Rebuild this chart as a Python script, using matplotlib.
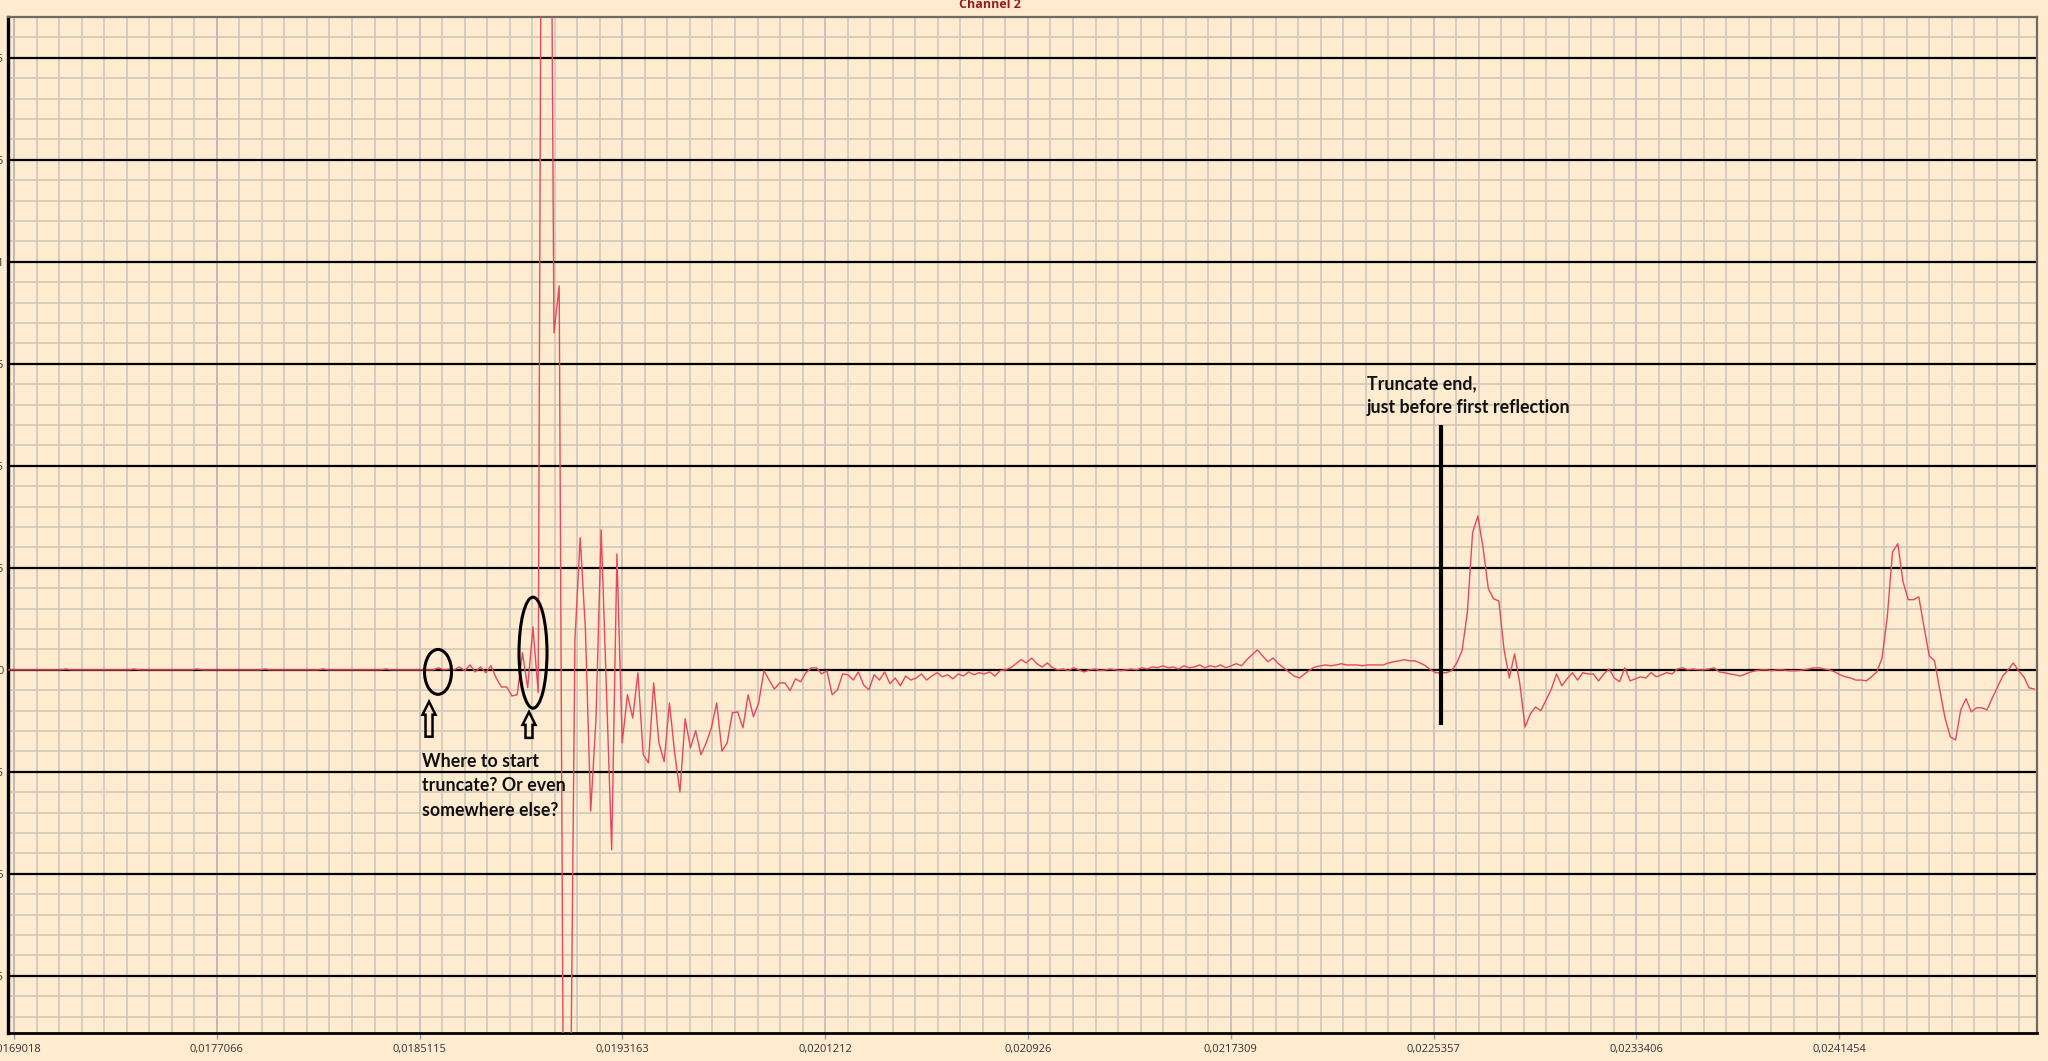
import numpy as np
import matplotlib
matplotlib.use("Agg")
import matplotlib.pyplot as plt
import matplotlib.transforms as mtransforms
from matplotlib.patches import Ellipse, Polygon
from matplotlib.ticker import FixedLocator, MultipleLocator, FuncFormatter

# ---------------- data ----------------
sample_rate = 48000
start_time = 0.016878

pre_onset = [0.0, 0.0, 0.0, 0.0, 0.0, 0.0, 0.0, 0.0, 0.0, 0.0,
             0.0, 0.0002, 0.0, 0.0, 0.0, 0.0, 0.0, 0.0, 0.0, 0.0,
             0.0, 0.0, 0.0, 0.0, 0.0002, 0.0, 0.0, 0.0, 0.0, 0.0,
             0.0, 0.0, 0.0, 0.0, 0.0, 0.0, 0.0002, 0.0, 0.0, 0.0,
             0.0, 0.0, 0.0, 0.0, 0.0, 0.0, 0.0, 0.0, 0.0, 0.0002,
             0.0, 0.0, 0.0, 0.0, 0.0, 0.0, 0.0, 0.0, 0.0, 0.0,
             0.0002, 0.0, 0.0, 0.0, 0.0, 0.0, 0.0, 0.0, 0.0, 0.0,
             0.0, 0.0, 0.0002, 0.0, 0.0, 0.0, 0.0, 0.0, 0.0, 0.0,
             0.0, 0.0]
onset = [0.0005, 0.0, 0.0002, 0.0, 0.0007, -0.0002, 0.0012, -0.0005, 0.0007, -0.0007,
         0.0010, -0.0020, -0.0042, -0.0042, -0.0064, -0.0061, 0.0042, -0.0044, 0.0105, -0.0056]
direct_sound = [0.34, 0.30, 0.0826, 0.0941, -0.16, -0.13, 0.0074, 0.0324, 0.0098, -0.0346,
                -0.0123, 0.0343, -0.0049, -0.0441, 0.0284]
decay = [-0.0179, -0.0061, -0.0118, -0.0007, -0.0208, -0.0228, -0.0032, -0.0179, -0.0225, -0.0081,
         -0.0203, -0.0299, -0.0120, -0.0191, -0.0149, -0.0208, -0.0179, -0.0142, -0.0081, -0.0199,
         -0.0179, -0.0105, -0.0103, -0.0142, -0.0061, -0.0115, -0.0081, -0.0002, -0.0025, -0.0047,
         -0.0032, -0.0032, -0.0051, -0.0022, -0.0029, -0.0007, 0.0005, 0.0005, -0.0010, -0.0002,
         -0.0061, -0.0049, -0.0010, -0.0012]
noise_floor = [-0.0025, -0.0005, -0.0037, -0.0049, -0.0012, -0.0025, -0.0005, -0.0034, -0.0020, -0.0039,
               -0.0015, -0.0025,
               -0.0020, -0.0010, -0.0025, -0.0015, -0.0007, -0.0017, -0.0012, -0.0022, -0.0010, -0.0015,
               -0.0005, -0.0012, -0.0007, -0.0010, -0.0005, -0.0015, -0.0002,
               0.0, 0.0005, 0.0015, 0.0025, 0.0017, 0.0029, 0.0015, 0.0007, 0.0017, 0.0005, 0.0,
               0.0002, -0.0002, 0.0005, 0.0, -0.0005, 0.0, 0.0002, -0.0002, 0.0, 0.0002,
               0.0, -0.0002, 0.0, 0.0002, 0.0,
               0.0005, 0.0002, 0.0007, 0.0005, 0.0010, 0.0005, 0.0007, 0.0002, 0.0010, 0.0005,
               0.0007, 0.0012, 0.0005, 0.0010, 0.0007, 0.0012, 0.0005, 0.0010, 0.0015, 0.0010,
               0.0025, 0.0037, 0.0049, 0.0034, 0.0020, 0.0029,
               0.0015, 0.0005, -0.0005, -0.0015, -0.0020, -0.0010, 0.0, 0.0007, 0.0010,
               0.0012, 0.0010, 0.0012, 0.0015, 0.0012,
               0.0012, 0.0012, 0.0010, 0.0012, 0.0012, 0.0012, 0.0012, 0.0017, 0.0020, 0.0022,
               0.0025, 0.0022, 0.0022, 0.0017, 0.0010, 0.0, -0.0007, -0.0007, -0.0007, -0.0002,
               0.0017]
first_reflection = [0.0047, 0.0140, 0.0336, 0.0377, 0.0299, 0.0199, 0.0174, 0.0169, 0.0049, -0.0020,
                    0.0039, -0.0034, -0.0140, -0.0108, -0.0091, -0.0100, -0.0074, -0.0047]
between_reflections = [-0.0010, -0.0039, -0.0022, -0.0007, -0.0025, -0.0007, -0.0010, -0.0010, -0.0027, -0.0010,
                       0.0002, -0.0020, -0.0029, 0.0005, -0.0027, -0.0022, -0.0017, -0.0020, -0.0007, -0.0017,
                       -0.0012, -0.0007, -0.0010, 0.0002, 0.0005, 0.0, 0.0002, 0.0, 0.0, 0.0002,
                       0.0005, -0.0005, -0.0007, -0.0010, -0.0012, -0.0015, -0.0010, -0.0005, -0.0002, 0.0,
                       0.0, -0.0002, 0.0, 0.0, -0.0002, -0.0002, -0.0002, 0.0, 0.0002, 0.0005,
                       0.0005, 0.0002, 0.0, -0.0005, -0.0012, -0.0017, -0.0020, -0.0025, -0.0025, -0.0027,
                       -0.0017, -0.0005]
second_reflection = [0.0029, 0.0130, 0.0289, 0.0309, 0.0216, 0.0172, 0.0172, 0.0179, 0.0105, 0.0034,
                     0.0022, -0.0049, -0.0118, -0.0164, -0.0172, -0.0098, -0.0071, -0.0103, -0.0093, -0.0093,
                     -0.0098, -0.0069, -0.0042, -0.0015, 0.0, 0.0017, -0.0002, -0.0017, -0.0044, -0.0047]

time_ticks = [0.0169018, 0.0177066, 0.0185115, 0.0193163, 0.0201212,
              0.0209260, 0.0217309, 0.0225357, 0.0233406, 0.0241454]
time_tick_labels = ["0,0169018", "0,0177066", "0,0185115", "0,0193163", "0,0201212",
                    "0,020926", "0,0217309", "0,0225357", "0,0233406", "0,0241454"]

title = "Channel 2"
note_start = "Where to start\ntruncate? Or even\nsomewhere else?"
note_end = "Truncate end,\njust before first reflection"

amplitude = np.array(pre_onset + onset + direct_sound + decay + noise_floor
                     + first_reflection + between_reflections + second_reflection)
time = start_time + np.arange(len(amplitude)) / sample_rate

# ---------------- style ----------------
BG = "#FFEBCF"
TRACE = "#E5485F"
MINOR_GRID = "#CFC7BC"
MAJOR_X_GRID = "#B3B0AB"

W, H = 2048, 1061
fig = plt.figure(figsize=(W / 100, H / 100), dpi=100, facecolor=BG)
ax = fig.add_axes([8 / W, 28 / H, 2029 / W, 1016 / H], facecolor=BG)

x_min, x_max = 0.016878, 0.0249305
y_min, y_max = -0.0890, 0.1600
ax.set_xlim(x_min, x_max)
ax.set_ylim(y_min, y_max)

# grid
major_step = time_ticks[1] - time_ticks[0]
minor_x = np.arange(time_ticks[0], x_max, major_step / 9)
ax.xaxis.set_major_locator(FixedLocator(time_ticks))
ax.xaxis.set_minor_locator(FixedLocator(minor_x))
ax.set_xticklabels(time_tick_labels)
ax.yaxis.set_major_locator(MultipleLocator(0.025))
ax.yaxis.set_minor_locator(MultipleLocator(0.005))
ax.yaxis.set_major_formatter(FuncFormatter(lambda v, p: f"{round(v, 4):g}".replace(".", ",")))

ax.set_axisbelow(True)
ax.grid(which="minor", color=MINOR_GRID, lw=1.2)
ax.grid(which="major", axis="x", color=MAJOR_X_GRID, lw=1.2)
ax.grid(which="major", axis="y", color="black", lw=1.6)

ax.tick_params(axis="x", which="major", length=4, width=1, color="#9A9A9A", pad=4,
               labelsize=8, labelcolor="#333333")
ax.tick_params(axis="x", which="minor", length=0)
ax.tick_params(axis="y", which="both", length=0, pad=3, labelsize=8, labelcolor="#333333")
for lab in ax.get_xticklabels() + ax.get_yticklabels():
    lab.set_family("Open Sans")

for side, col, lw in [("left", "black", 2.4), ("bottom", "black", 2.0),
                      ("top", "#6E6A64", 1.6), ("right", "#6E6A64", 1.6)]:
    ax.spines[side].set_color(col)
    ax.spines[side].set_linewidth(lw)

# trace
ax.plot(time, amplitude, color=TRACE, lw=1.0, zorder=3)

# title
fig.text(990 / W, 1 - 8 / H, title, ha="center", va="baseline", fontsize=9,
         fontweight="bold", color="#9B1B1B", family="Open Sans")

# annotations
ax.add_patch(Ellipse((0.0185846, -0.0005), 0.0001072, 0.0110, fill=False,
                     ec="black", lw=2.2, zorder=4))
ax.add_patch(Ellipse((0.0189616, 0.0042), 0.0001111, 0.0272, fill=False,
                     ec="black", lw=2.2, zorder=4))


def hollow_up_arrow(tip_x, tip_y, length_px):
    hw, sw, hh = 6.5, 3.5, 13.0
    verts = np.array([(0, 0), (hw, -hh), (sw, -hh), (sw, -length_px),
                      (-sw, -length_px), (-sw, -hh), (-hw, -hh)]) / 100.0
    trans = fig.dpi_scale_trans + mtransforms.ScaledTranslation(tip_x, tip_y, ax.transData)
    ax.add_patch(Polygon(verts, closed=True, fill=False, ec="black", lw=1.8,
                         joinstyle="miter", transform=trans, zorder=4))


hollow_up_arrow(0.0185489, -0.0078, 35)
hollow_up_arrow(0.0189457, -0.0103, 26)

ax.text(0.0185210, -0.0203, note_start, ha="left", va="top", fontsize=12.8,
        fontweight="bold", family="Lato", color="#111111", linespacing=1.55, zorder=5)

truncate_time = 0.0225655
ax.vlines(truncate_time, -0.0135, 0.0600, color="black", lw=3.0, zorder=5)
ax.text(0.0222715, 0.0722, note_end, ha="left", va="top", fontsize=12.8,
        fontweight="bold", family="Lato", color="#111111", linespacing=1.5, zorder=5)

fig.savefig("out.png", dpi=100, facecolor=BG)
